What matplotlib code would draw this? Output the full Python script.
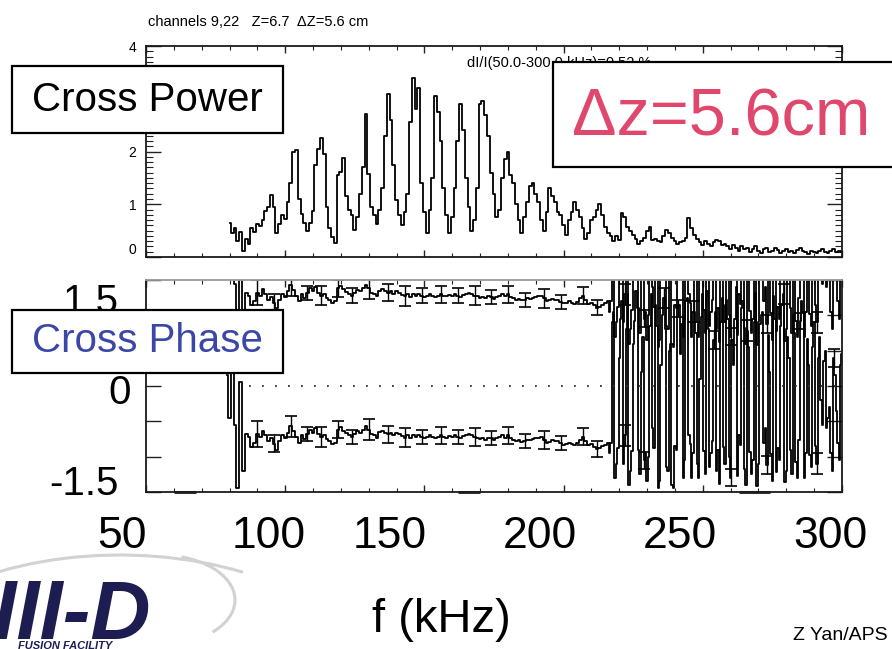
import numpy as np
import matplotlib
matplotlib.use("Agg")
import matplotlib.pyplot as plt
from matplotlib.patches import Rectangle, Arc
from matplotlib.transforms import ScaledTranslation
from matplotlib.ticker import MultipleLocator, FixedLocator

plt.rcParams['font.family'] = ['Liberation Sans', 'DejaVu Sans']

# ---------------- data ----------------
power_f0 = 80  # kHz, first power sample (1 kHz spacing)
power = [
    0.64, 0.45, 0.55, 0.30, 0.48, 0.12, 0.35, 0.25, 0.55, 0.48,
    0.62, 0.58, 0.70, 0.88, 0.95, 1.18, 0.95, 0.45, 0.62, 0.80,
    0.72, 1.05, 1.40, 2.00, 2.02, 1.10, 0.82, 0.64, 0.50, 0.65,
    0.88, 1.75, 2.05, 2.26, 1.95, 0.95, 0.55, 0.38, 0.26, 1.55,
    1.62, 1.88, 1.15, 0.90, 0.80, 0.52, 0.75, 1.20, 1.70, 2.71,
    1.58, 0.95, 0.80, 0.62, 0.90, 1.30, 2.30, 3.09, 2.60, 1.75,
    1.08, 0.80, 0.60, 0.85, 1.20, 2.55, 3.40, 2.80, 3.20, 1.40,
    0.86, 0.45, 0.90, 1.50, 3.05, 2.75, 2.20, 1.30, 0.80, 0.45,
    0.75, 1.30, 2.20, 2.90, 2.40, 1.50, 0.95, 0.50, 0.70, 1.30,
    2.90, 2.96, 2.70, 2.30, 1.60, 1.20, 0.75, 0.90, 1.50, 1.85,
    2.00, 1.55, 1.40, 1.00, 0.70, 0.45, 0.75, 1.05, 1.35, 1.40,
    1.20, 1.05, 0.70, 0.50, 0.85, 1.30, 1.15, 1.05, 0.85, 0.80,
    0.60, 0.41, 0.70, 0.85, 1.05, 0.90, 0.75, 0.55, 0.34, 0.45,
    0.70, 0.75, 0.90, 1.00, 0.80, 0.57, 0.45, 0.40, 0.30, 0.40,
    0.32, 0.83, 0.75, 0.57, 0.50, 0.42, 0.35, 0.25, 0.30, 0.36,
    0.50, 0.57, 0.33, 0.35, 0.30, 0.28, 0.40, 0.52, 0.45, 0.36,
    0.30, 0.25, 0.28, 0.30, 0.36, 0.73, 0.55, 0.41, 0.35, 0.28,
    0.22, 0.30, 0.25, 0.20, 0.28, 0.32, 0.30, 0.22, 0.25, 0.20,
    0.16, 0.22, 0.18, 0.12, 0.20, 0.15, 0.18, 0.10, 0.16, 0.20,
    0.12, 0.08, 0.15, 0.18, 0.10, 0.12, 0.17, 0.14, 0.08, 0.12,
    0.15, 0.10, 0.12, 0.08, 0.14, 0.18, 0.12, 0.10, 0.06, 0.12,
    0.10, 0.08, 0.12, 0.16, 0.10, 0.08, 0.12, 0.15, 0.10, 0.12, 0.09,
]

# cross phase in units of pi
phase_f0 = 79          # 1 kHz spacing for the early + coherent part
phase_early = [0.15, -0.45, 0.22, -0.55, -1.45, 0.05, -1.20]
phase_coherent = [
    -0.68, -0.72, -0.86, -0.80, -0.68, -0.72, -0.63, -0.70, -0.78, -0.74,
    -0.82, -0.90, -0.78, -0.70, -0.74, -0.66, -0.57, -0.64, -0.72, -0.80,
    -0.70, -0.75, -0.68, -0.62, -0.66, -0.60, -0.68, -0.72, -0.70, -0.75,
    -0.78, -0.82, -0.80, -0.62, -0.58, -0.63, -0.67, -0.70, -0.72, -0.68,
    -0.64, -0.66, -0.62, -0.57, -0.62, -0.68, -0.70, -0.73, -0.65, -0.63,
    -0.66, -0.68, -0.66, -0.70, -0.66, -0.68, -0.71, -0.73, -0.70, -0.74,
    -0.70, -0.72, -0.70, -0.72, -0.74, -0.72, -0.70, -0.72, -0.74, -0.72,
    -0.70, -0.72, -0.73, -0.71, -0.72, -0.70, -0.72, -0.74, -0.71, -0.70,
    -0.68, -0.70, -0.72, -0.73, -0.75, -0.74, -0.76, -0.73, -0.74, -0.77,
    -0.74, -0.72, -0.70, -0.73, -0.70, -0.74, -0.76, -0.78, -0.77, -0.79,
    -0.78, -0.76, -0.77, -0.75, -0.74, -0.73, -0.72, -0.76, -0.80, -0.79,
    -0.77, -0.78, -0.78, -0.81, -0.83, -0.82, -0.80, -0.82, -0.84, -0.81,
    -0.76, -0.72, -0.78, -0.84, -0.82, -0.86, -0.89, -0.88, -0.85, -0.83, -0.80,
]
incoh_f0, incoh_df = 216.5, 0.5   # 0.5 kHz spacing above 216 kHz
phase_incoherent = [
    -0.95, -0.80, 0.90, 1.05, -1.30, -1.10, -0.88, 0.40, 0.95, 1.20,
    -1.10, -0.70, 0.80, 1.30, -1.40, -1.20, -0.92, 0.60, 0.92, 1.35,
    1.10, -0.90, -1.25, 0.20, 0.70, -1.05, -0.95, -1.35, -1.00, 0.85,
    1.30, -0.60, -0.88, 1.15, 0.85, -1.45, -1.35, 0.30, 1.00, 1.25,
    0.80, -1.15, -1.20, 0.50, 0.60, -1.40, -1.45, -0.85, -0.90, 1.10,
    1.15, 0.45, 0.88, -1.30, -1.05, 1.20, 1.25, -0.70, -0.82, -1.30,
    -0.95, 1.05, 0.75, -1.10, -1.30, 0.10, 0.98, 1.30, -0.92, -1.25,
    1.35, 0.80, -1.15, -0.95, -0.78, 0.65, 1.05, -1.20, -0.90, -1.38,
    0.90, 1.25, -0.86, -1.10, 1.22, 0.95, -1.00, -1.30, 0.65, 0.30,
    0.95, 1.40, -1.28, -0.70, -0.84, 1.10, 1.20, -1.18, -1.40, 0.78,
    0.55, -0.94, -1.25, -1.05, 0.90, 1.32, -1.42, -1.10, 0.88, 1.00,
    1.05, -0.80, -0.60, -1.12, 0.72, 0.20, -0.96, -1.35, 1.28, 0.95,
    -1.22, -0.88, -1.05, 0.85, 1.15, 1.30, -1.36, -1.20, 0.70, 0.40,
    -0.90, -1.25, 1.00, 0.75, -1.08, -1.30, -0.76, 0.92, 1.20, 1.05,
    -1.30, -0.95, 0.66, 0.30, -0.98, -1.15, 0.55, 0.90, -0.85, -1.10,
    0.40, 0.70, -0.20, -0.55, 0.35, 0.50, -0.60, -0.45, -0.30, -0.95,
    -1.20, 0.40, 0.15, -0.35, -0.80, -1.05, 0.30, 0.45,
]
err_freq = [90, 96, 102, 108, 113, 119, 124, 130, 137, 143, 149, 156, 162, 168,
            174, 180, 186, 193, 199, 207, 212, 222, 229, 236, 241, 247, 254, 260,
            266, 273, 279, 285, 291, 297]
err_size = [0.18, 0.12, 0.15, 0.10, 0.14, 0.12, 0.10, 0.15, 0.12, 0.14, 0.10, 0.12,
            0.10, 0.13, 0.10, 0.12, 0.10, 0.13, 0.10, 0.12, 0.11, 0.15, 0.12, 0.14,
            0.12, 0.15, 0.13, 0.12, 0.15, 0.13, 0.14, 0.12, 0.15, 0.13]
edge_marks = [(60, 68), (162, 170), (263, 274)]

xtick_vals = [50, 100, 150, 200, 250, 300]
xtick_text = ['50', '100', '150', '200', '250', '300']

# ---------------- figure ----------------
W, H = 892, 649
fig = plt.figure(figsize=(W / 100, H / 100), dpi=100)
fig.patch.set_facecolor('white')

def fx(x):
    return x / W

def fy(y):
    return 1 - y / H

L, R = 146, 842
ax1 = fig.add_axes([fx(L), fy(257), fx(R) - fx(L), fy(46) - fy(257)])
ax2 = fig.add_axes([fx(L), fy(492), fx(R) - fx(L), fy(280) - fy(492)])

# --- power ---
pf = power_f0 + np.arange(len(power))
ax1.plot(pf, power, drawstyle='steps-mid', color='black', lw=1.3)
ax1.set_xlim(50, 300)
ax1.set_ylim(0, 4)
ax1.xaxis.set_major_locator(MultipleLocator(50))
ax1.xaxis.set_minor_locator(MultipleLocator(10))
ax1.yaxis.set_major_locator(FixedLocator([0, 1, 2, 3, 4]))
ax1.set_yticklabels(['0', '1', '2', '', '4'])
ax1.yaxis.set_minor_locator(MultipleLocator(0.1))
ax1.tick_params(which='both', direction='in', top=True, right=True,
                labelbottom=False, color='#222222')
ax1.tick_params(axis='y', which='major', length=10.5, width=1.0, labelsize=10, pad=7)
ax1.tick_params(axis='y', which='minor', length=5, width=0.8)
ax1.tick_params(axis='x', which='major', length=5, width=1.0)
ax1.tick_params(axis='x', which='minor', length=3, width=0.8)

# --- phase ---
phase = np.array(phase_early + phase_coherent + phase_incoherent)
phf = np.concatenate([phase_f0 + np.arange(len(phase_early) + len(phase_coherent)),
                      incoh_f0 + incoh_df * np.arange(len(phase_incoherent))])
idx = np.searchsorted(phf, err_freq)
for shift in (0.0, 2.0):
    ax2.plot(phf, phase + shift, drawstyle='steps-mid', color='black', lw=1.3)
    ax2.errorbar(err_freq, phase[idx] + shift, yerr=err_size, fmt='none',
                 ecolor='black', elinewidth=1.0, capsize=4, capthick=1.2)
ax2.plot([87, 300], [0, 0], color='#333333', lw=1.3, linestyle=(0, (1.0, 6.2)))
for a, b in edge_marks:
    ax2.plot([a, b], [-1.5, -1.5], color='#333333', lw=2.2, clip_on=False,
             solid_capstyle='butt')
ax2.set_xlim(50, 300)
ax2.set_ylim(-1.5, 1.5)
ax2.xaxis.set_major_locator(FixedLocator(xtick_vals))
ax2.xaxis.set_minor_locator(MultipleLocator(10))
ax2.set_xticklabels(xtick_text)
ax2.yaxis.set_major_locator(FixedLocator([-1.5, -1.0, -0.5, 0.0, 0.5, 1.0, 1.5]))
ax2.set_yticklabels(['-1.5', '', '', '0', '', '', '1.5'])
ax2.tick_params(which='both', direction='in', top=True, right=True, color='#222222')
ax2.tick_params(axis='y', which='major', length=10.5, width=1.0, labelsize=29, pad=11)
ax2.tick_params(axis='x', which='major', length=5, width=1.0, labelsize=32, pad=17)
ax2.tick_params(axis='x', which='minor', length=3, width=0.8)

for ax in (ax1, ax2):
    for sp in ax.spines.values():
        sp.set_linewidth(1.3)
        sp.set_color('#1a1a1a')
ax2.spines['top'].set_color('#9a9a9a')

# ---------------- slide annotations ----------------
fig.text(fx(148), fy(22), 'channels 9,22   Z=6.7  ΔZ=5.6 cm', fontsize=10.5,
         ha='left', va='center', zorder=2)
fig.text(fx(467), fy(63), 'dI/I(50.0-300.0 kHz)=0.52 %', fontsize=10.5,
         ha='left', va='center', zorder=2)

def box(x0, y0, x1, y1):
    fig.patches.append(Rectangle((fx(x0), fy(y1)), fx(x1) - fx(x0), fy(y0) - fy(y1),
                                 transform=fig.transFigure, facecolor='white',
                                 edgecolor='black', lw=1.6, zorder=4))

box(12, 66, 283, 133)
fig.text(fx(147), fy(100), 'Cross Power', fontsize=29, ha='center', va='center',
         color='black', zorder=5)
box(12, 310, 283, 373)
fig.text(fx(147), fy(341), 'Cross Phase', fontsize=29, ha='center', va='center',
         color='#3b47a6', zorder=5)
box(553, 62, 905, 167)
fig.text(fx(572), fy(118), 'Δz=5.6cm', fontsize=48, ha='left', va='center',
         color='#e0476c', zorder=5)

fig.text(0.5 * (fx(365) + fx(518)), fy(620), 'f (kHz)', fontsize=34,
         ha='center', va='center')
fig.text(fx(793), fy(636), 'Z Yan/APS', fontsize=14, ha='left', va='center')

# logo
fig.patches.append(Arc((fx(120), fy(700)), 520 / W, 290 / H, theta1=55, theta2=150,
                       transform=fig.transFigure, color='#d2d2d2', lw=2.2, zorder=1))
fig.patches.append(Arc((fx(160), fy(600)), 150 / W, 90 / H, theta1=-40, theta2=70,
                       transform=fig.transFigure, color='#d2d2d2', lw=2.2, zorder=1))
fig.text(fx(-66), fy(639), 'DIII-D', fontsize=60, fontweight='bold', style='italic',
         color='#1d1d52', ha='left', va='baseline', zorder=3)
fig.text(fx(18), fy(646), 'FUSION FACILITY', fontsize=8, fontweight='bold',
         style='italic', color='#1d1d52', ha='left', va='center', zorder=3)

# ---------------- label offsets (slide text placement) ----------------
fig.canvas.draw()
xlab_dx = [-24, -17, -35, -24, -23, -12]
for tick, dx in zip(ax2.xaxis.get_major_ticks(), xlab_dx):
    tick.label1.set_transform(tick.label1.get_transform() +
                              ScaledTranslation(dx / 100, 0, fig.dpi_scale_trans))
ylab_d = {0: (-12, 12), 3: (0, -3), 6: (-12, -18)}
for i, tick in enumerate(ax2.yaxis.get_major_ticks()):
    if i in ylab_d:
        dx, dy = ylab_d[i]
        tick.label1.set_transform(tick.label1.get_transform() +
                                  ScaledTranslation(dx / 100, dy / 100, fig.dpi_scale_trans))
for i, tick in enumerate(ax1.yaxis.get_major_ticks()):
    if i == 0:
        tick.label1.set_transform(tick.label1.get_transform() +
                                  ScaledTranslation(0, 8 / 100, fig.dpi_scale_trans))

fig.savefig('out.png', dpi=100, facecolor='white')
